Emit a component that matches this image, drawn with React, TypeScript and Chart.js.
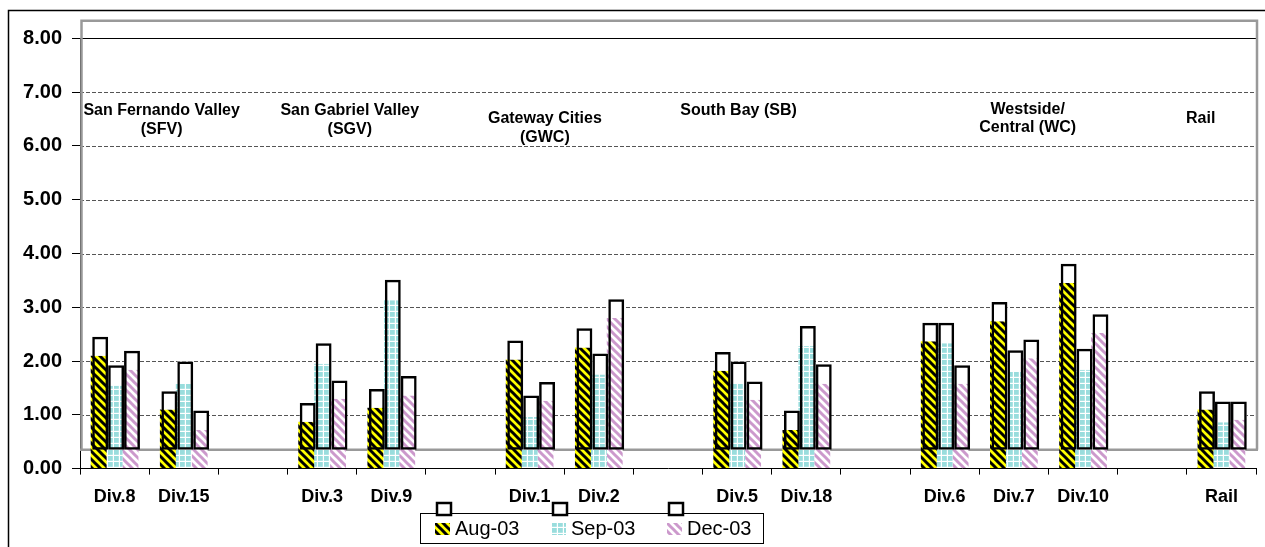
import React, { useEffect, useRef } from 'react';
import { Chart, registerables } from 'chart.js';

Chart.register(...registerables);

// ---------- data ----------
const categories = ['Div.8', 'Div.15', '', 'Div.3', 'Div.9', '', 'Div.1', 'Div.2', '', 'Div.5', 'Div.18', '', 'Div.6', 'Div.7', 'Div.10', '', 'Rail'];
const seriesNames = ['Aug-03', 'Sep-03', 'Dec-03'];
const aug03 = [2.10, 1.10, null, 0.87, 1.13, null, 2.03, 2.25, null, 1.82, 0.72, null, 2.37, 2.74, 3.45, null, 1.10];
const sep03 = [1.54, 1.59, null, 1.95, 3.13, null, 0.96, 1.75, null, 1.59, 2.28, null, 2.33, 1.81, 1.84, null, 0.86];
const dec03 = [1.84, 0.72, null, 1.30, 1.36, null, 1.26, 2.80, null, 1.28, 1.58, null, 1.58, 2.05, 2.52, null, 0.91];
// tops of the 3-D back faces (outlined boxes)
const aug03Back = [2.45, 1.44, null, 1.22, 1.48, null, 2.38, 2.61, null, 2.17, 1.08, null, 2.71, 3.10, 3.81, null, 1.44];
const sep03Back = [1.92, 1.99, null, 2.33, 3.51, null, 1.36, 2.14, null, 1.99, 2.65, null, 2.71, 2.20, 2.23, null, 1.25];
const dec03Back = [2.19, 1.08, null, 1.64, 1.72, null, 1.61, 3.15, null, 1.62, 1.94, null, 1.92, 2.40, 2.87, null, 1.25];
const floorValue = 0.35;
const wallTopValue = 8.33;
const yMin = 0;
const yMax = 8;
const yStep = 1;
const regionTexts = [
  ['San Fernando Valley', '(SFV)'],
  ['San Gabriel Valley', '(SGV)'],
  ['Gateway Cities', '(GWC)'],
  ['South Bay (SB)'],
  ['Westside/', 'Central (WC)'],
  ['Rail'],
];

// ---------- layout / style ----------
const FONT = '"Liberation Sans", Arial, Helvetica, sans-serif';
const regionAnchors = [
  { x: 0.68, y: 6.65 },
  { x: 3.40, y: 6.65 },
  { x: 6.22, y: 6.50 },
  { x: 9.02, y: 6.65 },
  { x: 13.2, y: 6.68 },
  { x: 15.7, y: 6.51 },
];

function makePattern(kind: string): CanvasPattern | string {
  const c = document.createElement('canvas');
  const s = kind === 'sep' ? 6 : 8;
  c.width = s;
  c.height = s;
  const g = c.getContext('2d')!;
  if (kind === 'aug' || kind === 'dec') {
    g.fillStyle = kind === 'aug' ? '#ffff00' : '#ffffff';
    g.fillRect(0, 0, s, s);
    g.strokeStyle = kind === 'aug' ? '#000000' : '#cc99cc';
    g.lineWidth = 3;
    for (const o of [-s, 0, s]) {
      g.beginPath();
      g.moveTo(o - 2, -2);
      g.lineTo(o + s + 2, s + 2);
      g.stroke();
    }
  } else {
    g.fillStyle = '#ffffff';
    g.fillRect(0, 0, s, s);
    g.fillStyle = '#99dddd';
    g.fillRect(0, 0, 4.8, 4.8);
  }
  return g.createPattern(c, 'repeat') || '#ccc';
}

export default function App() {
  const ref = useRef<HTMLCanvasElement>(null);

  useEffect(() => {
    const patterns = [makePattern('aug'), makePattern('sep'), makePattern('dec')];
    const fronts = [aug03, sep03, dec03];
    const backs = [aug03Back, sep03Back, dec03Back];
    const stacks = ['aug', 'sep', 'dec'];

    const datasets: any[] = [];
    for (let s = 0; s < 3; s++) {
      datasets.push({
        label: seriesNames[s] + ' back',
        data: backs[s].map((t) => (t == null ? null : [floorValue, t])),
        backgroundColor: 'rgba(0,0,0,0)',
        borderColor: '#000',
        borderWidth: 2.5,
        borderSkipped: false,
        stack: stacks[s],
        order: 0,
        shiftX: 1.5,
      });
      datasets.push({
        label: seriesNames[s] + ' cap',
        data: backs[s].map((t, i) => (t == null || fronts[s][i] == null ? null : [fronts[s][i], t])),
        backgroundColor: '#ffffff',
        borderWidth: 0,
        stack: stacks[s],
        order: 1,
        shiftX: 1.5,
      });
      datasets.push({
        label: seriesNames[s],
        data: fronts[s].map((v) => (v == null ? null : [0, v])),
        backgroundColor: patterns[s],
        borderWidth: 0,
        stack: stacks[s],
        order: 2,
      });
    }

    const shiftPlugin = {
      id: 'shiftBack',
      beforeDatasetDraw(chart: any, args: any) {
        const ds = chart.data.datasets[args.index];
        if (ds.shiftX) {
          chart.ctx.save();
          chart.ctx.translate(ds.shiftX, 0);
        }
      },
      afterDatasetDraw(chart: any, args: any) {
        const ds = chart.data.datasets[args.index];
        if (ds.shiftX) chart.ctx.restore();
      },
    };

    const wallPlugin = {
      id: 'wall',
      beforeDatasetsDraw(chart: any) {
        const { ctx, chartArea: ca, scales } = chart;
        const y = scales.y;
        ctx.save();
        for (const t of y.ticks) {
          if (t.value === yMin) continue;
          const py = Math.round(y.getPixelForValue(t.value)) + 0.5;
          ctx.beginPath();
          if (t.value === yMax) {
            ctx.setLineDash([]);
            ctx.strokeStyle = '#000';
          } else {
            ctx.setLineDash([4, 2]);
            ctx.strokeStyle = '#555';
          }
          ctx.lineWidth = 1;
          ctx.moveTo(ca.left, py);
          ctx.lineTo(ca.right, py);
          ctx.stroke();
        }
        ctx.setLineDash([]);
        const top = y.getPixelForValue(wallTopValue);
        const fl = y.getPixelForValue(floorValue);
        ctx.strokeStyle = '#999';
        ctx.lineWidth = 2.5;
        ctx.beginPath();
        ctx.moveTo(ca.left + 1.5, fl);
        ctx.lineTo(ca.left + 1.5, top);
        ctx.lineTo(ca.right + 1, top);
        ctx.lineTo(ca.right + 1, fl);
        ctx.stroke();
        ctx.beginPath();
        ctx.moveTo(ca.left, fl);
        ctx.lineTo(ca.right + 2, fl);
        ctx.stroke();
        ctx.restore();
      },
      afterDraw(chart: any) {
        const { ctx, scales } = chart;
        const x = scales.x;
        const y = scales.y;
        ctx.save();
        // region labels
        ctx.fillStyle = '#000';
        ctx.font = 'bold 16px ' + FONT;
        ctx.textAlign = 'center';
        ctx.textBaseline = 'middle';
        regionTexts.forEach((lines, i) => {
          const a = regionAnchors[i];
          const px = x.getPixelForValue(a.x);
          const py = y.getPixelForValue(a.y);
          lines.forEach((ln, k) => ctx.fillText(ln, px, py + k * 18.5));
        });
        // outer border
        ctx.strokeStyle = '#000';
        ctx.lineWidth = 1.5;
        ctx.strokeRect(8.5, 10.5, 1400, 700);
        // legend
        ctx.fillStyle = '#fff';
        ctx.fillRect(420, 513, 343, 30);
        ctx.lineWidth = 1;
        ctx.strokeRect(420.5, 513.5, 343, 30);
        const keyX = [435, 551, 667];
        ctx.font = '20px ' + FONT;
        ctx.textAlign = 'left';
        keyX.forEach((kx, i) => {
          ctx.fillStyle = patterns[i] as any;
          ctx.fillRect(kx, 523, 15, 12);
          ctx.fillStyle = '#000';
          ctx.fillText(seriesNames[i], kx + 20, 529.5);
          ctx.fillStyle = '#fff';
          ctx.fillRect(kx + 2, 503, 14, 12);
          ctx.lineWidth = 2.5;
          ctx.strokeStyle = '#000';
          ctx.strokeRect(kx + 2, 503, 14, 12);
        });
        ctx.restore();
      },
    };

    const chart = new Chart(ref.current!, {
      type: 'bar',
      data: { labels: categories, datasets },
      plugins: [shiftPlugin, wallPlugin],
      options: {
        responsive: false,
        maintainAspectRatio: false,
        animation: false,
        devicePixelRatio: 1,
        layout: { padding: { left: 8, right: 9, top: 38.4, bottom: 0 } },
        datasets: { bar: { categoryPercentage: 0.69, barPercentage: 1.0 } } as any,
        plugins: { legend: { display: false }, tooltip: { enabled: false } },
        scales: {
          x: {
            grid: { drawOnChartArea: false, color: '#000', tickLength: 6, offset: true },
            border: { display: true, color: '#000', width: 1 },
            ticks: {
              color: '#000',
              font: { family: FONT, size: 18, weight: 'bold' },
              autoSkip: false,
              maxRotation: 0,
              padding: 12,
            },
            afterFit: (s: any) => {
              s.height = 78.4;
            },
          },
          y: {
            stacked: false,
            min: yMin,
            max: yMax,
            grid: { drawOnChartArea: false, color: '#000', tickLength: 8 },
            border: { display: true, color: '#000', width: 1 },
            ticks: {
              stepSize: yStep,
              color: '#000',
              font: { family: FONT, size: 20, weight: 'bold' },
              padding: 10,
              callback: (v: any) => Number(v).toFixed(2),
            },
            afterFit: (s: any) => {
              s.width = 72;
            },
          },
        },
      } as any,
    });
    return () => chart.destroy();
  }, []);

  return (
    <div style={{ position: 'fixed', left: 0, top: 0, width: 1265, height: 547, background: '#fff' }}>
      <canvas ref={ref} width={1265} height={547} style={{ display: 'block' }} />
    </div>
  );
}
